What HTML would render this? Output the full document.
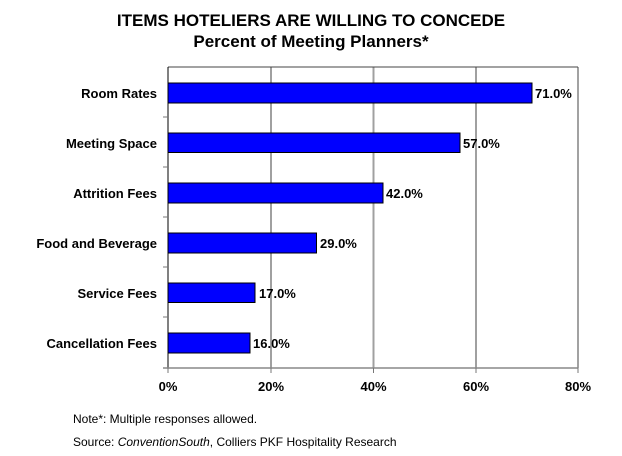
<html><body style="margin:0;background:#fff;width:622px;height:456px;overflow:hidden;font-family:'Liberation Sans',Arial,sans-serif">
<svg width="622" height="456" xmlns="http://www.w3.org/2000/svg" font-family="Liberation Sans, Arial, sans-serif">
<text x="311" y="26" text-anchor="middle" font-size="17" font-weight="bold">ITEMS HOTELIERS ARE WILLING TO CONCEDE</text>
<text x="311" y="47" text-anchor="middle" font-size="17" font-weight="bold">Percent of Meeting Planners*</text>
<g stroke="#a0a0a0" stroke-width="2">
<line x1="271" y1="67" x2="271" y2="368"/><line x1="373.5" y1="67" x2="373.5" y2="368"/><line x1="476" y1="67" x2="476" y2="368"/>
</g>
<line x1="168" y1="67" x2="578" y2="67" stroke="#444" stroke-width="1"/>
<line x1="578" y1="67" x2="578" y2="368" stroke="#444" stroke-width="1"/>
<line x1="168" y1="67" x2="168" y2="368" stroke="#000" stroke-width="1"/>
<line x1="163" y1="368" x2="578" y2="368" stroke="#888" stroke-width="1.5"/>
<g stroke="#777"><line x1="163" y1="117" x2="168" y2="117"/><line x1="163" y1="167" x2="168" y2="167"/><line x1="163" y1="217" x2="168" y2="217"/><line x1="163" y1="267" x2="168" y2="267"/><line x1="163" y1="317" x2="168" y2="317"/>
<line x1="168" y1="368" x2="168" y2="373"/><line x1="271" y1="368" x2="271" y2="373"/><line x1="373.5" y1="368" x2="373.5" y2="373"/><line x1="476" y1="368" x2="476" y2="373"/><line x1="578" y1="368" x2="578" y2="373"/></g>
<g fill="#0000ff" stroke="#000" stroke-width="1">
<rect x="168" y="83" width="364" height="20"/>
<rect x="168" y="133" width="292" height="19.5"/>
<rect x="168" y="183" width="215" height="20"/>
<rect x="168" y="233" width="148.5" height="20"/>
<rect x="168" y="283" width="87" height="19.5"/>
<rect x="168" y="333" width="82" height="20"/>
</g>
<g font-size="13" font-weight="bold">
<g text-anchor="end">
<text x="157" y="98">Room Rates</text><text x="157" y="148">Meeting Space</text><text x="157" y="198">Attrition Fees</text><text x="157" y="248">Food and Beverage</text><text x="157" y="298">Service Fees</text><text x="157" y="348">Cancellation Fees</text>
</g>
<text x="535" y="98">71.0%</text><text x="463" y="148">57.0%</text><text x="386" y="198">42.0%</text><text x="320" y="248">29.0%</text><text x="259" y="298">17.0%</text><text x="253" y="348">16.0%</text>
<g text-anchor="middle"><text x="168" y="391">0%</text><text x="271" y="391">20%</text><text x="373.5" y="391">40%</text><text x="476" y="391">60%</text><text x="578" y="391">80%</text></g>
</g>
<text x="73" y="423" font-size="12">Note*: Multiple responses allowed.</text>
<text x="73" y="446" font-size="12">Source: <tspan font-style="italic">ConventionSouth</tspan>, Colliers PKF Hospitality Research</text>
</svg></body></html>
